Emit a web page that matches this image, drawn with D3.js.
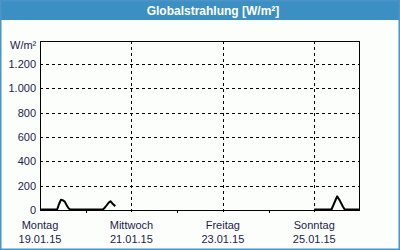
<!DOCTYPE html>
<html><head><meta charset="utf-8">
<script src="https://cdn.jsdelivr.net/npm/d3@7"></script>
<style>
html,body{margin:0;padding:0;background:#fff;}
svg{display:block;}
</style></head>
<body>
<svg id="c" width="400" height="250"></svg>
<script>
const title = "Globalstrahlung [W/m²]";
const unitLabel = "W/m²";
const times = [
  "2015-01-19T00:00","2015-01-19T09:00","2015-01-19T10:00","2015-01-19T11:00","2015-01-19T12:00",
  "2015-01-19T13:00","2015-01-19T14:00","2015-01-19T15:00","2015-01-19T16:00",
  "2015-01-20T09:00","2015-01-20T10:00","2015-01-20T11:00","2015-01-20T12:00","2015-01-20T13:00",
  "2015-01-20T14:00","2015-01-20T15:00","2015-01-20T15:30","2015-01-20T16:00",
  "2015-01-25T00:00","2015-01-25T09:00","2015-01-25T10:00","2015-01-25T11:00","2015-01-25T12:00",
  "2015-01-25T13:00","2015-01-25T14:00","2015-01-25T15:00","2015-01-25T16:00","2015-01-26T00:00"
];
const values = [
  0,0,45,80,76,65,35,10,0,
  0,15,35,55,68,50,35,27,null,
  0,0,35,72,108,84,55,25,0,0
];
const yTicks = [0,200,400,600,800,1000,1200];
const yTickLabels = ["0","200","400","600","800","1.000","1.200"];
const dayTicks = ["2015-01-19","2015-01-21","2015-01-23","2015-01-25"];
const dayNames = ["Montag","Mittwoch","Freitag","Sonntag"];
const dayDates = ["19.01.15","21.01.15","23.01.15","25.01.15"];
const minorTicks = ["2015-01-20","2015-01-22","2015-01-24"];
const xDomain = ["2015-01-19","2015-01-26"];
const yMax = 1390;

const svg = d3.select("#c");
const W = 400, H = 250;
const m = {l:40, r:360, t:41, b:210};
const font = "'Liberation Sans', Arial, sans-serif";
const txtCol = "#1c1c4c";

svg.append("rect").attr("x",0).attr("y",0).attr("width",W).attr("height",H).attr("fill","#fcfefc");
svg.append("rect").attr("x",0).attr("y",0).attr("width",W).attr("height",20).attr("fill","#3c8fc3");
svg.append("rect").attr("x",0.75).attr("y",0.75).attr("width",W-1.5).attr("height",H-1.5)
  .attr("fill","none").attr("stroke","#4a94c6").attr("stroke-width",1.5);
svg.append("text").attr("x",213).attr("y",15).attr("text-anchor","middle")
  .attr("font-family",font).attr("font-weight","bold").attr("font-size",12)
  .attr("fill","#ffffff").text(title);

const x = d3.scaleUtc().domain(xDomain.map(s=>new Date(s+"T00:00Z"))).range([m.l,m.r]);
const y = d3.scaleLinear().domain([0,yMax]).range([m.b,m.t]);

const g = svg.append("g");
g.selectAll("line.hg").data(yTicks.filter(v=>v>0)).join("line")
  .attr("x1",m.l).attr("x2",m.r).attr("y1",d=>Math.round(y(d))+0.5).attr("y2",d=>Math.round(y(d))+0.5)
  .attr("stroke","#000").attr("stroke-width",1).attr("stroke-dasharray","3,3");
g.selectAll("line.vg").data(dayTicks.slice(1)).join("line")
  .attr("x1",d=>Math.round(x(new Date(d+"T00:00Z")))+0.5).attr("x2",d=>Math.round(x(new Date(d+"T00:00Z")))+0.5)
  .attr("y1",m.t).attr("y2",m.b+3)
  .attr("stroke","#000").attr("stroke-width",1).attr("stroke-dasharray","3,3");
g.selectAll("line.mt").data(minorTicks).join("line")
  .attr("x1",d=>Math.round(x(new Date(d+"T00:00Z")))+0.5).attr("x2",d=>Math.round(x(new Date(d+"T00:00Z")))+0.5)
  .attr("y1",m.b).attr("y2",m.b+3).attr("stroke","#000").attr("stroke-width",1);

svg.append("rect").attr("x",m.l+0.5).attr("y",m.t+0.5).attr("width",m.r-m.l-1).attr("height",m.b-m.t)
  .attr("fill","none").attr("stroke","#000").attr("stroke-width",1);

svg.selectAll("text.yl").data(yTicks).join("text")
  .attr("x",36).attr("y",d=>y(d)+4).attr("text-anchor","end")
  .attr("font-family",font).attr("font-size",11).attr("fill",txtCol)
  .text((d,i)=>yTickLabels[i]);
svg.append("text").attr("x",10).attr("y",49).attr("font-family",font).attr("font-size",11)
  .attr("fill",txtCol).text(unitLabel);

const xl = svg.selectAll("g.xl").data(dayTicks).join("g");
xl.append("text").attr("x",d=>x(new Date(d+"T00:00Z"))).attr("y",229).attr("text-anchor","middle")
  .attr("font-family",font).attr("font-size",11).attr("fill",txtCol).text((d,i)=>dayNames[i]);
xl.append("text").attr("x",d=>x(new Date(d+"T00:00Z"))).attr("y",243).attr("text-anchor","middle")
  .attr("font-family",font).attr("font-size",11).attr("fill",txtCol).text((d,i)=>dayDates[i]);

const data = times.map((t,i)=>({t:new Date(t+"Z"), v:values[i]}));
const line = d3.line().defined(d=>d.v!=null).x(d=>x(d.t)).y(d=>y(d.v)-0.5);
svg.append("path").datum(data).attr("d",line).attr("fill","none")
  .attr("stroke","#000").attr("stroke-width",2).attr("stroke-linejoin","round");
</script>
</body></html>
